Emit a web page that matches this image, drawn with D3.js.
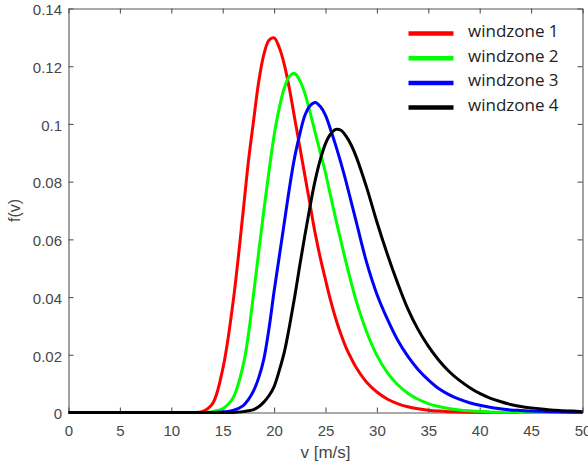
<!DOCTYPE html>
<html>
<head>
<meta charset="utf-8">
<script src="https://cdn.jsdelivr.net/npm/d3@7"></script>
<style>
  html, body { margin: 0; padding: 0; background: #fff; }
  svg { display: block; }
</style>
</head>
<body>
<svg id="chart" width="588" height="468"></svg>
<script>
// Wind speed v [m/s]: 1 m/s steps, with 0.5 m/s steps around the peaks (17–28 m/s)
const speeds = [
  0, 1, 2, 3, 4, 5, 6, 7, 8, 9, 10, 11, 12, 13, 14, 15, 16,
  17, 17.5, 18, 18.5, 19, 19.5, 20, 20.5, 21, 21.5, 22, 22.5, 23, 23.5, 24, 24.5,
  25, 25.5, 26, 26.5, 27, 27.5, 28,
  29, 30, 31, 32, 33, 34, 35, 36, 37, 38, 39, 40, 41, 42, 43, 44, 45, 46, 47, 48, 49, 50
];

// Probability density f(v) for each wind zone, one value per speed above
const zone1 = [
  0, 0, 0, 0, 0, 0, 0, 0, 0, 0, 0, 0, 0, 0.0003, 0.003, 0.015, 0.038,
  0.070, 0.087, 0.101, 0.1145, 0.124, 0.129, 0.1298, 0.1265, 0.1205, 0.112, 0.102, 0.092, 0.082, 0.072, 0.062, 0.0535,
  0.046, 0.0388, 0.0325, 0.0271, 0.0225, 0.0188, 0.0155,
  0.0105, 0.0071, 0.0047, 0.0031, 0.002, 0.0013, 0.0008, 0.0005, 0.0003, 0.0002, 0.0001, 0.0001, 0, 0, 0, 0, 0, 0, 0, 0, 0, 0
];
const zone2 = [
  0, 0, 0, 0, 0, 0, 0, 0, 0, 0, 0, 0, 0, 0, 0.0003, 0.0013, 0.005,
  0.0165, 0.027, 0.041, 0.0555, 0.070, 0.0835, 0.096, 0.1055, 0.1125, 0.1165, 0.1175, 0.115, 0.1105, 0.104, 0.097, 0.090,
  0.083, 0.075, 0.067, 0.0595, 0.052, 0.045, 0.0385,
  0.028, 0.0198, 0.0139, 0.0097, 0.0067, 0.0046, 0.0031, 0.0021, 0.0014, 0.0009, 0.0006, 0.0004, 0.0002, 0.0001, 0.0001, 0, 0, 0, 0, 0, 0, 0
];
const zone3 = [
  0, 0, 0, 0, 0, 0, 0, 0, 0, 0, 0, 0, 0, 0, 0, 0.0002, 0.0007,
  0.0024, 0.0045, 0.0075, 0.012, 0.0185, 0.029, 0.042, 0.054, 0.066, 0.078, 0.0885, 0.0965, 0.103, 0.1063, 0.1074, 0.106,
  0.103, 0.098, 0.0925, 0.0865, 0.080, 0.073, 0.066,
  0.052, 0.041, 0.0325, 0.0252, 0.0195, 0.0149, 0.0113, 0.0083, 0.0062, 0.0046, 0.0034, 0.0025, 0.0018, 0.0013, 0.0009, 0.0007, 0.0005, 0.0004, 0.0003, 0.0002, 0.0001, 0.0001
];
const zone4 = [
  0, 0, 0, 0, 0, 0, 0, 0, 0, 0, 0, 0, 0, 0, 0, 0, 0,
  0.0003, 0.0006, 0.001, 0.002, 0.0036, 0.0058, 0.009, 0.0145, 0.021, 0.030, 0.040, 0.051, 0.0615, 0.0715, 0.0805, 0.0877,
  0.0932, 0.0965, 0.0981, 0.0978, 0.0958, 0.0927, 0.0885,
  0.078, 0.066, 0.055, 0.045, 0.036, 0.0288, 0.0230, 0.0182, 0.0143, 0.0112, 0.0087, 0.0066, 0.0050, 0.0038, 0.0028, 0.0021, 0.0016, 0.0012, 0.0009, 0.0006, 0.0005, 0.0003
];

const seriesNames = ["windzone 1", "windzone 2", "windzone 3", "windzone 4"];
const seriesValues = [zone1, zone2, zone3, zone4];
const seriesColors = ["#ff0000", "#00ff00", "#0000ff", "#000000"];

const xTicks = [0, 5, 10, 15, 20, 25, 30, 35, 40, 45, 50];
const yTicks = [0, 0.02, 0.04, 0.06, 0.08, 0.1, 0.12, 0.14];
const xLabel = "v [m/s]";
const yLabel = "f(v)";

const svg = d3.select("#chart");
const plotLeft = 68.5, plotRight = 582.5, plotTop = 8.5, plotBottom = 412.5;

const x = d3.scaleLinear().domain([0, 50]).range([plotLeft, plotRight]);
const y = d3.scaleLinear().domain([0, 0.14]).range([plotBottom, plotTop]);

const axisColor = "#555";
const tickTextColor = "#474747";
const tickFont = "'Liberation Sans', Arial, sans-serif";

// Axes with inward ticks on all four sides (boxed frame)
function styleAxis(g) {
  g.select(".domain").attr("stroke", axisColor).attr("stroke-width", 1.1);
  g.selectAll(".tick line").attr("stroke", axisColor).attr("stroke-width", 1.1);
  g.selectAll(".tick text")
    .attr("fill", tickTextColor)
    .style("font-family", tickFont)
    .style("font-size", "15px");
}

svg.append("g")
  .attr("transform", `translate(0,${plotBottom})`)
  .call(d3.axisBottom(x).tickValues(xTicks).tickSizeInner(-5).tickSizeOuter(0)
    .tickPadding(13).tickFormat(d3.format("d")))
  .call(styleAxis);

svg.append("g")
  .attr("transform", `translate(0,${plotTop})`)
  .call(d3.axisTop(x).tickValues(xTicks).tickSizeInner(-5).tickSizeOuter(0).tickFormat(""))
  .call(styleAxis);

svg.append("g")
  .attr("transform", `translate(${plotLeft},0)`)
  .call(d3.axisLeft(y).tickValues(yTicks).tickSizeInner(-5).tickSizeOuter(0)
    .tickPadding(6.5).tickFormat(d => d === 0 ? "0" : String(+d.toFixed(2))))
  .call(styleAxis)
  .call(g => g.selectAll(".tick text").attr("dy", "0.42em"));

svg.append("g")
  .attr("transform", `translate(${plotRight},0)`)
  .call(d3.axisRight(y).tickValues(yTicks).tickSizeInner(-5).tickSizeOuter(0).tickFormat(""))
  .call(styleAxis);

// Axis titles
svg.append("text")
  .attr("x", (plotLeft + plotRight) / 2)
  .attr("y", 458)
  .attr("text-anchor", "middle")
  .attr("fill", tickTextColor)
  .style("font-family", tickFont)
  .style("font-size", "17px")
  .text(xLabel);

svg.append("text")
  .attr("transform", `translate(20,${(plotTop + plotBottom) / 2}) rotate(-90)`)
  .attr("text-anchor", "middle")
  .attr("fill", tickTextColor)
  .style("font-family", tickFont)
  .style("font-size", "16px")
  .text(yLabel);

// Density curves (smooth spline through the sampled values)
const line = d3.line()
  .x((d, i) => x(speeds[i]))
  .y(d => y(d))
  .curve(d3.curveCatmullRom.alpha(0.5));

svg.append("g")
  .selectAll("path")
  .data(seriesValues)
  .join("path")
  .attr("d", line)
  .attr("fill", "none")
  .attr("stroke", (d, i) => seriesColors[i])
  .attr("stroke-width", 3)
  .attr("stroke-linejoin", "round");

// Legend
const legend = svg.append("g")
  .selectAll("g")
  .data(seriesNames)
  .join("g")
  .attr("transform", (d, i) => `translate(0,${33.5 + i * 24.7})`);

legend.append("line")
  .attr("x1", 408.5).attr("x2", 453.5)
  .attr("y1", 0).attr("y2", 0)
  .attr("stroke", (d, i) => seriesColors[i])
  .attr("stroke-width", 4.5);

legend.append("text")
  .attr("x", 468)
  .attr("y", 3.5)
  .attr("fill", "#222")
  .style("font-family", "'Open Sans', 'Noto Sans', sans-serif")
  .style("font-size", "17px")
  .text(d => d);
</script>
</body>
</html>
